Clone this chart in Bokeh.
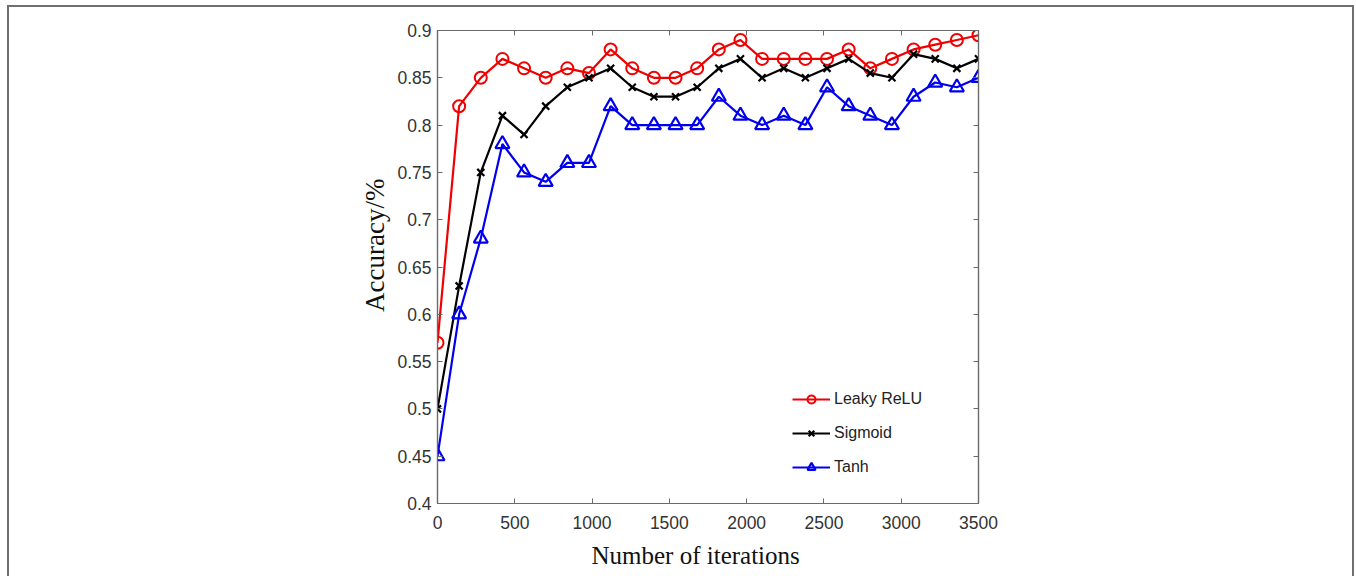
from bokeh.plotting import figure
from bokeh.models import (LinearAxis, Legend, LegendItem, FixedTicker, Title,
                          CustomLabelingPolicy)
from bokeh.embed import file_html
from bokeh.resources import INLINE

iterations = [0, 140, 280, 420, 560, 700, 840, 980, 1120, 1260, 1400, 1540, 1680,
              1820, 1960, 2100, 2240, 2380, 2520, 2660, 2800, 2940, 3080, 3220, 3360, 3500]
leaky_relu = [0.57, 0.82, 0.85, 0.87, 0.86, 0.85, 0.86, 0.855, 0.88, 0.86, 0.85, 0.85, 0.86,
              0.88, 0.89, 0.87, 0.87, 0.87, 0.87, 0.88, 0.86, 0.87, 0.88, 0.885, 0.89, 0.895]
sigmoid = [0.50, 0.63, 0.75, 0.81, 0.79, 0.82, 0.84, 0.85, 0.86, 0.84, 0.83, 0.83, 0.84,
           0.86, 0.87, 0.85, 0.86, 0.85, 0.86, 0.87, 0.855, 0.85, 0.875, 0.87, 0.86, 0.87]
tanh = [0.45, 0.60, 0.68, 0.78, 0.75, 0.74, 0.76, 0.76, 0.82, 0.80, 0.80, 0.80, 0.80,
        0.83, 0.81, 0.80, 0.81, 0.80, 0.84, 0.82, 0.81, 0.80, 0.83, 0.845, 0.84, 0.85]
x_ticks = [0, 500, 1000, 1500, 2000, 2500, 3000, 3500]
y_ticks = [0.4, 0.45, 0.5, 0.55, 0.6, 0.65, 0.7, 0.75, 0.8, 0.85, 0.9]
y_tick_labels = {0.4: "0.4", 0.45: "0.45", 0.5: "0.5", 0.55: "0.55", 0.6: "0.6", 0.65: "0.65",
                 0.7: "0.7", 0.75: "0.75", 0.8: "0.8", 0.85: "0.85", 0.9: "0.9"}
x_title = "Number of iterations"
y_title = "Accuracy/%"
series_names = ["Leaky ReLU", "Sigmoid", "Tanh"]

RED = "#f00000"
BLACK = "#000000"
BLUE = "#0000ee"
AXIS = "#6a6a6a"
TICKTXT = "#333333"

p = figure(width=1347, height=572, x_range=(0, 3500), y_range=(0.4, 0.9),
           output_backend="svg", toolbar_location=None,
           min_border_left=428, min_border_right=374, min_border_top=23, min_border_bottom=69,
           frame_width=541, frame_height=473)
p.styles = {"border-left": "2px solid #707070", "border-top": "2px solid #707070",
            "border-right": "2px solid #707070", "margin-left": "7px", "margin-top": "5px"}
p.grid.visible = False
p.outline_line_color = AXIS
p.outline_line_width = 1.2

hide_all = CustomLabelingPolicy(code="""
for (const i of Array.from(indices)) { indices.unset(i) }
return indices
""")

def style_axis(ax, show_labels):
    ax.axis_line_color = AXIS
    ax.axis_line_width = 1.2
    ax.major_tick_line_color = AXIS
    ax.major_tick_in = 5
    ax.major_tick_out = 0
    ax.minor_tick_line_color = None
    ax.major_label_text_font = "Liberation Sans"
    ax.major_label_text_font_size = "17.5px"
    ax.major_label_text_color = TICKTXT
    if not show_labels:
        ax.major_label_policy = hide_all

xa = p.xaxis[0]
xa.ticker = FixedTicker(ticks=x_ticks)
xa.major_label_standoff = 12
style_axis(xa, True)

ya = p.yaxis[0]
ya.ticker = FixedTicker(ticks=y_ticks)
ya.major_label_overrides = y_tick_labels
ya.major_label_standoff = 6
style_axis(ya, True)

top = LinearAxis(ticker=FixedTicker(ticks=x_ticks))
style_axis(top, False)
p.add_layout(top, "above")
right = LinearAxis(ticker=FixedTicker(ticks=y_ticks))
style_axis(right, False)
p.add_layout(right, "right")

p.add_layout(Title(text=x_title, align="left", offset=154, standoff=16,
                   text_font="Liberation Serif", text_font_size="25px",
                   text_font_style="normal", text_color="#111111"), "below")
p.add_layout(Title(text=y_title, align="right", offset=148, standoff=10,
                   text_font="Liberation Serif", text_font_size="27px",
                   text_font_style="normal", text_color="#111111"), "left")

l1 = p.line(iterations, leaky_relu, line_color=RED, line_width=2.2)
m1 = p.scatter(iterations, leaky_relu, marker="circle", size=12, line_color=RED,
               line_width=2, fill_color=None)
l2 = p.line(iterations, sigmoid, line_color=BLACK, line_width=2.2)
m2 = p.scatter(iterations, sigmoid, marker="x", size=10, line_color=BLACK, line_width=2.2)
l3 = p.line(iterations, tanh, line_color=BLUE, line_width=2.2)
m3 = p.scatter(iterations, tanh, marker="triangle", size=14, line_color=BLUE,
               line_width=2.2, fill_color=None)

legend = Legend(items=[LegendItem(label=series_names[0], renderers=[l1, m1]),
                       LegendItem(label=series_names[1], renderers=[l2, m2]),
                       LegendItem(label=series_names[2], renderers=[l3, m3])],
                location=(355, 26), padding=0, margin=0, spacing=14,
                glyph_width=38, glyph_height=20, label_height=20, label_standoff=4,
                label_text_font="Liberation Sans", label_text_font_size="16px",
                label_text_color="#222222",
                border_line_color=None, background_fill_alpha=0)
p.add_layout(legend, "center")

open("out.html", "w").write(file_html(p, INLINE))
